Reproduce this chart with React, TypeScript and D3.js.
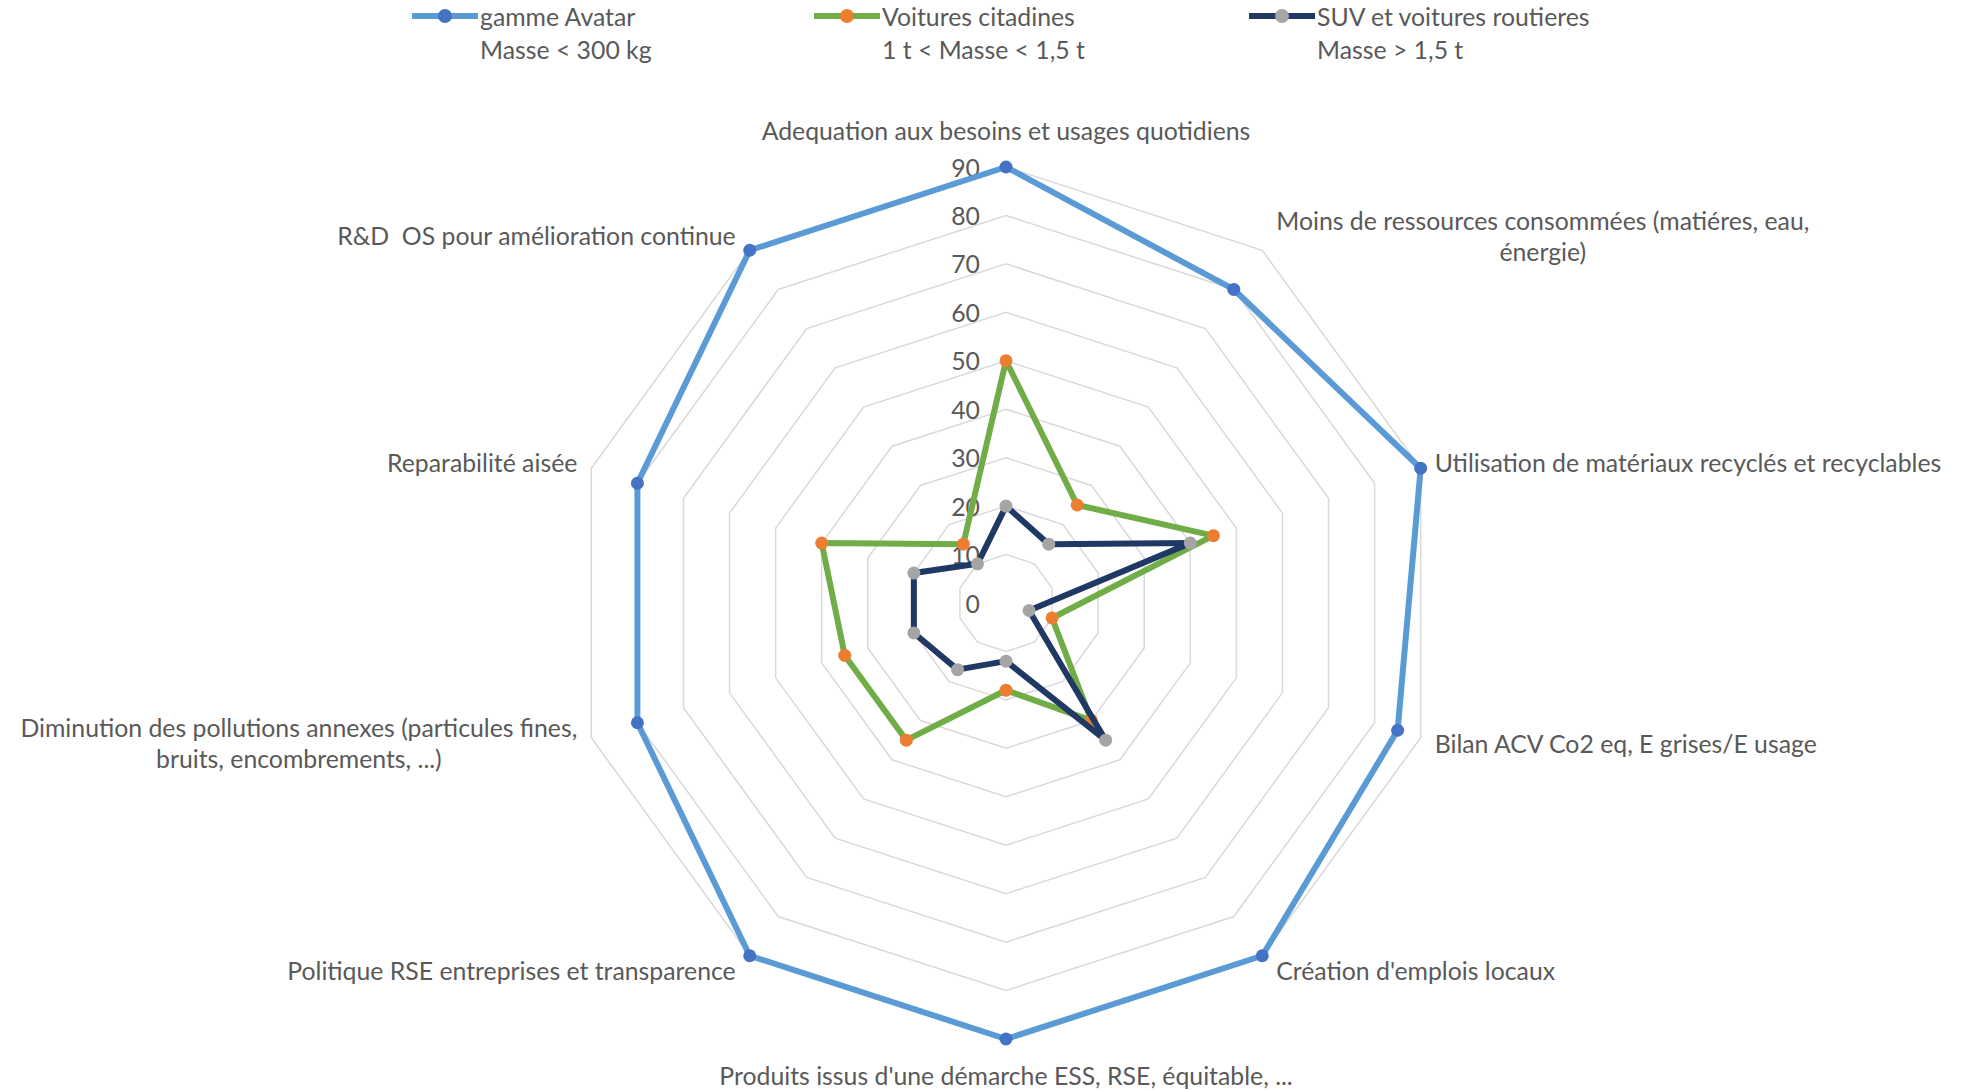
import React, { useEffect, useRef } from "react";
import * as d3 from "d3";

// Criteria shown around the radar (line breaks marked with \n)
const categories: string[] = [
  "Adequation aux besoins et usages quotidiens",
  "Moins de ressources consommées (matiéres, eau,\nénergie)",
  "Utilisation de matériaux recyclés et recyclables",
  "Bilan ACV Co2 eq, E grises/E usage",
  "Création d'emplois locaux",
  "Produits issus d'une démarche ESS, RSE, équitable, ...",
  "Politique RSE entreprises et transparence",
  "Diminution des pollutions annexes (particules fines,\nbruits, encombrements, ...)",
  "Reparabilité aisée",
  "R&D  OS pour amélioration continue",
];

// Scores per criterion for each vehicle family
const avatarValues: number[] = [90, 80, 90, 85, 90, 90, 90, 80, 80, 90];
const citadinesValues: number[] = [50, 25, 45, 10, 30, 18, 35, 35, 40, 15];
const suvValues: number[] = [20, 15, 40, 5, 35, 12, 17, 20, 20, 10];

const seriesNames: string[][] = [
  ["gamme Avatar", "Masse < 300 kg"],
  ["Voitures citadines", "1 t < Masse < 1,5 t"],
  ["SUV et voitures routieres", "Masse > 1,5 t"],
];

const radialTicks: number[] = [0, 10, 20, 30, 40, 50, 60, 70, 80, 90];

const WIDTH = 1962;
const HEIGHT = 1090;
const CX = 1006;
const CY = 603;
const RADIUS = 436;
const FONT = "Lato, 'Open Sans', sans-serif";
const FONT_SIZE = 24.8;
const TEXT_COLOR = "#595959";

const seriesStyles = [
  { line: "#5B9BD5", marker: "#4472C4" },
  { line: "#70AD47", marker: "#ED7D31" },
  { line: "#1F3864", marker: "#A5A5A5" },
];

export default function App() {
  const ref = useRef<SVGSVGElement | null>(null);

  useEffect(() => {
    document.body.style.margin = "0";
    const svg = d3.select(ref.current);
    svg.selectAll("*").remove();

    const n = categories.length;
    const r = d3.scaleLinear().domain([0, 90]).range([0, RADIUS]);
    const angle = d3
      .scaleLinear()
      .domain([0, n])
      .range([0, 2 * Math.PI]);
    const pt = (i: number, v: number): [number, number] => {
      const a = angle(i);
      return [CX + r(v) * Math.sin(a), CY - r(v) * Math.cos(a)];
    };

    const gGrid = svg.append("g");
    // concentric polygon rings
    radialTicks
      .filter((t) => t > 0)
      .forEach((t) => {
        const pts = d3.range(n).map((i) => pt(i, t));
        gGrid
          .append("path")
          .attr("d", d3.line().curve(d3.curveLinearClosed)(pts) as string)
          .attr("fill", "none")
          .attr("stroke", "#D9D9D9")
          .attr("stroke-width", 1.5);
      });

    // radial value labels
    svg
      .append("g")
      .selectAll("text")
      .data(radialTicks)
      .join("text")
      .attr("x", CX - 26)
      .attr("y", (d) => CY - r(d))
      .attr("text-anchor", "end")
      .attr("dominant-baseline", "central")
      .attr("font-family", FONT)
      .attr("font-size", FONT_SIZE)
      .attr("fill", TEXT_COLOR)
      .text((d) => String(d));

    // series
    const allSeries = [avatarValues, citadinesValues, suvValues];
    allSeries.forEach((vals, s) => {
      const pts = vals.map((v, i) => pt(i, v));
      const g = svg.append("g");
      g.append("path")
        .attr("d", d3.line().curve(d3.curveLinearClosed)(pts) as string)
        .attr("fill", "none")
        .attr("stroke", seriesStyles[s].line)
        .attr("stroke-width", 6)
        .attr("stroke-linejoin", "round");
      g.selectAll("circle")
        .data(pts)
        .join("circle")
        .attr("cx", (d) => d[0])
        .attr("cy", (d) => d[1])
        .attr("r", 6.5)
        .attr("fill", seriesStyles[s].marker);
    });

    // category labels
    const LINE_H = 31;
    const gLab = svg.append("g");
    categories.forEach((label, i) => {
      const a = angle(i);
      const [ox, oy] = pt(i, 90);
      const lines = label.split("\n");
      const sin = Math.sin(a);
      const cos = Math.cos(a);
      let cy: number;
      let side: number;
      let x0: number;
      if (Math.abs(sin) < 0.01) {
        side = 0;
        x0 = ox;
        cy = oy + (cos > 0 ? -37 : 36);
      } else {
        side = sin > 0 ? 1 : -1;
        x0 = ox + 14 * side;
        cy = oy - 18 * cos;
      }
      const texts = lines.map((ln, k) =>
        gLab
          .append("text")
          .attr("y", cy + (k - (lines.length - 1) / 2) * LINE_H)
          .attr("dominant-baseline", "central")
          .attr("font-family", FONT)
          .attr("font-size", FONT_SIZE)
          .attr("fill", TEXT_COLOR)
          .style("white-space", "pre")
          .text(ln)
      );
      const widths = texts.map((t) => (t.node() as SVGTextElement).getComputedTextLength());
      const maxW = Math.max(...widths);
      const xc = side === 0 ? x0 : x0 + (side * maxW) / 2;
      texts.forEach((t) => t.attr("x", xc).attr("text-anchor", "middle"));
    });

    // legend
    const legendX = [412, 814, 1249];
    const gLeg = svg.append("g");
    seriesNames.forEach((names, s) => {
      const x = legendX[s];
      gLeg
        .append("line")
        .attr("x1", x)
        .attr("x2", x + 66)
        .attr("y1", 16)
        .attr("y2", 16)
        .attr("stroke", seriesStyles[s].line)
        .attr("stroke-width", 6);
      gLeg
        .append("circle")
        .attr("cx", x + 33)
        .attr("cy", 16)
        .attr("r", 7)
        .attr("fill", seriesStyles[s].marker);
      names.forEach((nm, k) => {
        gLeg
          .append("text")
          .attr("x", x + 68)
          .attr("y", 16 + k * 33)
          .attr("dominant-baseline", "central")
          .attr("font-family", FONT)
          .attr("font-size", FONT_SIZE)
          .attr("fill", TEXT_COLOR)
          .text(nm);
      });
    });
  }, []);

  return <svg ref={ref} width={WIDTH} height={HEIGHT} style={{ display: "block", background: "#fff" }} />;
}
